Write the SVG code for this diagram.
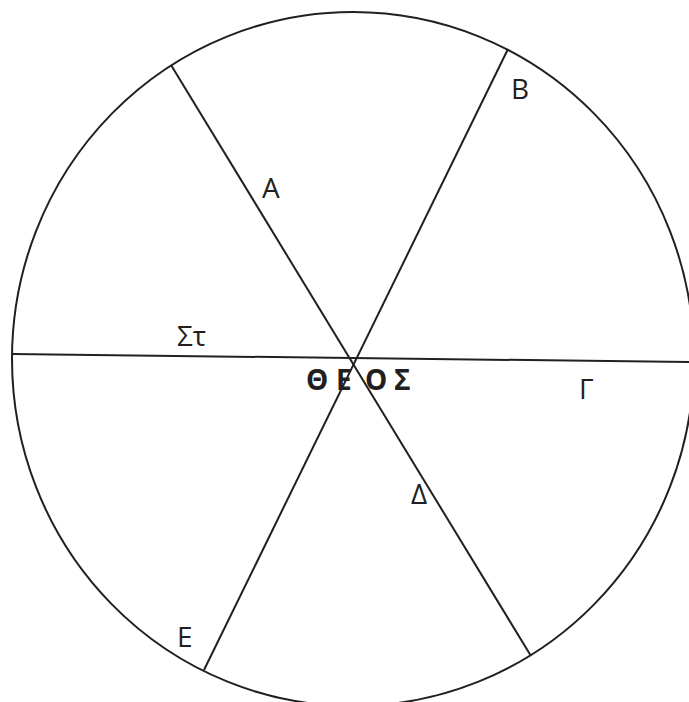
<svg xmlns="http://www.w3.org/2000/svg" width="689" height="702" viewBox="0 0 689 702">
<style>
.ln{stroke:#231f20;stroke-width:2;fill:none}
.lb{font-family:"Open Sans","Noto Sans","Liberation Sans",sans-serif;font-size:28px;fill:#231f20}
.bd{font-weight:bold}
</style>
<rect width="689" height="702" fill="#fff"/>
<g id="circle"><ellipse class="ln" cx="353" cy="359" rx="341" ry="347"/></g>
<g id="connectors">
<line class="ln" x1="12" y1="354" x2="689" y2="362"/>
<line class="ln" x1="171" y1="65" x2="531" y2="656"/>
<line class="ln" x1="508" y1="49" x2="204" y2="670"/>
</g>
<g id="labels">
<text id="A" class="lb" x="262" y="198">A</text>
<text id="B" class="lb" x="511" y="99">B</text>
<text id="St" class="lb" x="177" y="346">Στ</text>
<text id="G" class="lb" x="579" y="399">Γ</text>
<text id="D" class="lb" x="411" y="504">Δ</text>
<text id="E" class="lb" x="177" y="647">E</text>
<text id="THEOS" class="lb bd" x="306 336 365 394" y="390">ΘΕΟΣ</text>
</g>
</svg>
